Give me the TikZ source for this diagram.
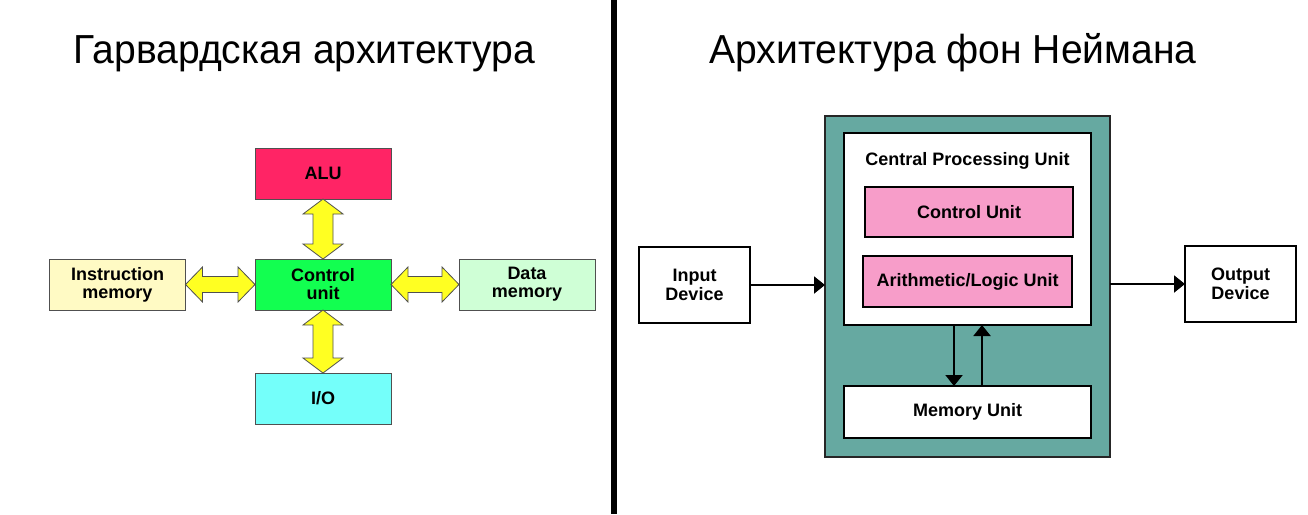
\documentclass[tikz,border=0pt]{standalone}
\usepackage{fontspec}
\setmainfont{Liberation Sans}
\newfontfamily\ttlfont[FakeStretch=0.965]{Liberation Sans}
\usetikzlibrary{calc,arrows.meta}
\definecolor{aluRed}{HTML}{FF2465}
\definecolor{cuGreen}{HTML}{12FF50}
\definecolor{ioCyan}{HTML}{74FFFA}
\definecolor{imYellow}{HTML}{FFFAC4}
\definecolor{dmGreen}{HTML}{CFFFD6}
\definecolor{arrYellow}{HTML}{FFFF22}
\definecolor{tealBg}{HTML}{66A9A1}
\definecolor{pinkBox}{HTML}{F79DC9}
\definecolor{lboxBorder}{HTML}{505050}
\newcommand{\yvdarrow}[2]{%
  \draw[yarrow] (#1) -- ++(20,15) -- ++(-10,0) -- ($(#2)+(10,-15)$) -- ++(10,0) -- (#2)
    -- ++(-20,-15) -- ++(10,0) -- ($(#1)+(-10,15)$) -- ++(-10,0) -- cycle;}
\newcommand{\yhdarrow}[2]{%
  \draw[yarrow] (#1) -- ++(17,-17.5) -- ++(0,9.5) -- ($(#2)+(-17,-8)$) -- ++(0,-9.5) -- (#2)
    -- ++(-17,17.5) -- ++(0,-9.5) -- ($(#1)+(17,8)$) -- ++(0,9.5) -- cycle;}
\tikzset{
  lbox/.style={draw=lboxBorder, line width=1pt, minimum width=136pt, minimum height=51pt,
    inner sep=0pt, outer sep=0pt, align=center, font={\fontsize{18}{18}\selectfont\bfseries}},
  yarrow/.style={fill=arrYellow, draw=lboxBorder, line width=0.8pt, line join=miter},
  rbox/.style={draw=black, line width=2pt, inner sep=0pt, outer sep=0pt, align=center,
    font={\fontsize{18}{19.5}\selectfont\bfseries}},
  title/.style={anchor=base, inner sep=0pt, font={\ttlfont\fontsize{40.5}{44}\selectfont}},
  conn/.style={line width=2pt, -{Triangle[length=11pt,width=17pt]}}
}
\begin{document}
\begin{tikzpicture}[x=1pt,y=-1pt]
\useasboundingbox (0,0) rectangle (1308,514);
% divider
\fill[black] (611,0) rectangle (617,514);
% titles
\node[title] (t1) at (304.5,63) {Гарвардская архитектура};
\node[title] (t2) at (953,63) {Архитектура фон Неймана};
% Harvard
\node[lbox, fill=aluRed] (alu) at (323,173.5) {ALU};
\node[lbox, fill=cuGreen] (cu) at (323,284.5) {Control\\unit};
\node[lbox, fill=ioCyan] (io) at (323,398.5) {I/O};
\node[lbox, fill=imYellow] (im) at (117.5,284.5) {Instruction\\memory};
\node[lbox, fill=dmGreen] (dm) at (527,284.5) {Data\\memory};
\yvdarrow{alu.south}{cu.north}
\yvdarrow{cu.south}{io.north}
\yhdarrow{im.east}{cu.west}
\yhdarrow{cu.east}{dm.west}
% von Neumann
\node[draw=black!85, line width=2.5pt, fill=tealBg, minimum width=285pt, minimum height=341pt, inner sep=0pt, outer sep=0pt] (outer) at (967.5,286.5) {};
\node[rbox, fill=white, minimum width=247pt, minimum height=192pt] (cpu) at (967.5,229) {};
\node[anchor=base, inner sep=0pt, font={\fontsize{18}{19.5}\selectfont\bfseries}] (cpul) at (967.5,165) {Central Processing Unit};
\node[rbox, fill=pinkBox, minimum width=208pt, minimum height=50pt] (cunit) at (969,212) {Control Unit};
\node[rbox, fill=pinkBox, minimum width=209pt, minimum height=51pt] (aunit) at (967.5,281.5) {Arithmetic/Logic Unit};
\node[rbox, fill=white, minimum width=247pt, minimum height=52pt] (mem) at (967.5,412) {Memory Unit};
\node[rbox, fill=white, minimum width=111pt, minimum height=76pt] (inp) at (694.5,285) {Input\\Device};
\node[rbox, fill=white, minimum width=111pt, minimum height=76pt] (outp) at (1240.5,284) {Output\\Device};
\draw[conn] (inp.east) -- (inp.east -| outer.west);
\draw[conn] (outp.west -| outer.east) -- (outp.west);
\draw[conn] (cpu.south -| 954,0) -- (mem.north -| 954,0);
\draw[conn] (mem.north -| 982,0) -- (cpu.south -| 982,0);
\end{tikzpicture}
\end{document}
